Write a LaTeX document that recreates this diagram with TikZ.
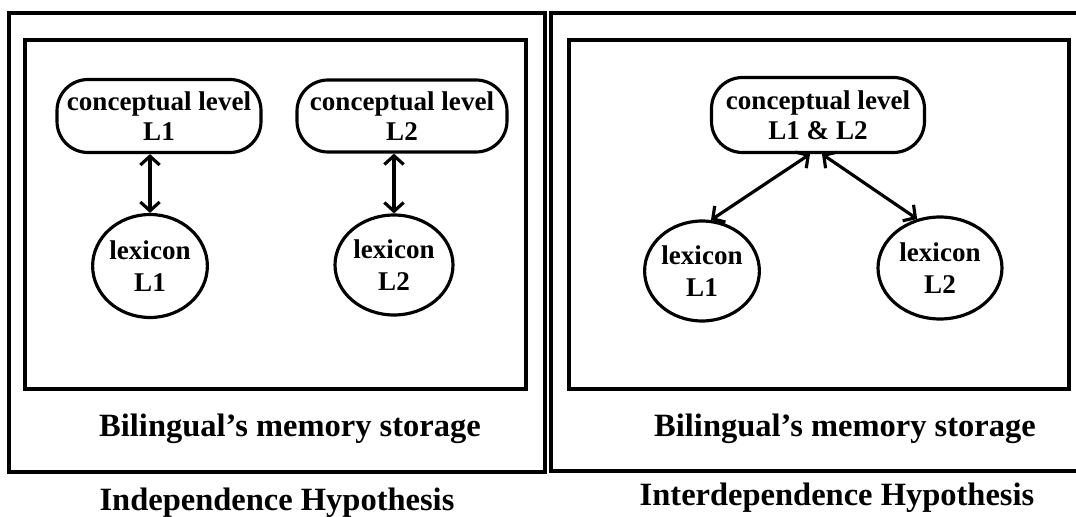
\documentclass[tikz,border=0pt]{standalone}
\usepackage{fontspec}
\setmainfont{Liberation Serif}
\usetikzlibrary{arrows.meta, positioning, shapes.geometric}
\tikzset{
    outerbox/.style={line width=2.3pt},
    innerbox/.style={line width=2pt},
    concept/.style={draw, line width=1.8pt, rounded corners=0.62cm, align=center,
        inner sep=0pt, font=\bfseries\fontsize{15.4}{17}\selectfont},
    lexicon/.style={draw, ellipse, line width=1.8pt, align=center,
        inner sep=0pt, font=\bfseries\fontsize{15.4}{18}\selectfont},
    link/.style={line width=1.8pt, {Straight Barb[length=5pt,width=11pt]}-{Straight Barb[length=5pt,width=11pt]}},
    caption/.style={anchor=base, font=\bfseries\fontsize{18.5}{20}\selectfont}
}
\begin{document}
\begin{tikzpicture}[x=0.02cm, y=-0.02cm]
    \useasboundingbox (0,0) rectangle (1076,517);
    % frames
    \draw[outerbox] (9,13) rectangle (545,472);
    \draw[innerbox] (25,40) rectangle (526,389);
    \draw[outerbox] (1076,13) -| (551,471) -- (1076,471);
    \draw[innerbox] (569,40) rectangle (1069,389);
    % independence
    \node[concept, minimum width=4.08cm, minimum height=1.46cm] (concA) at (159,116) {conceptual level\\L1};
    \node[concept, minimum width=4.2cm, minimum height=1.44cm] (concB) at (402,116) {conceptual level\\L2};
    \node[lexicon, minimum width=2.2cm, minimum height=2.06cm] (lexA) at (150,266) {lexicon\\L1};
    \node[lexicon, minimum width=2.36cm, minimum height=2.0cm] (lexB) at (394,265) {lexicon\\L2};
    \draw[link] (lexA.north |- concA.south) -- (lexA.north);
    \draw[link] (lexB.north |- concB.south) -- (lexB.north);
    % interdependence
    \node[concept, minimum width=4.26cm, minimum height=1.5cm] (concC) at (818,115) {conceptual level\\L1 \& L2};
    \node[lexicon, minimum width=2.24cm, minimum height=2.0cm] (lexC) at (702,271) {lexicon\\L1};
    \node[lexicon, minimum width=2.48cm, minimum height=2.04cm] (lexD) at (940,268) {lexicon\\L2};
    \draw[link] ([xshift=-0.16cm]concC.south) -- (lexC.80);
    \draw[link] ([xshift=0.08cm]concC.south) -- (lexD.115);
    % captions
    \node[caption] (storeA) at (290,436) {Bilingual’s memory storage};
    \node[caption] (storeB) at (845,436) {Bilingual’s memory storage};
    \node[caption] (hypA) at (277,510) {Independence Hypothesis};
    \node[caption] (hypB) at (837,505) {Interdependence Hypothesis};
\end{tikzpicture}
\end{document}
